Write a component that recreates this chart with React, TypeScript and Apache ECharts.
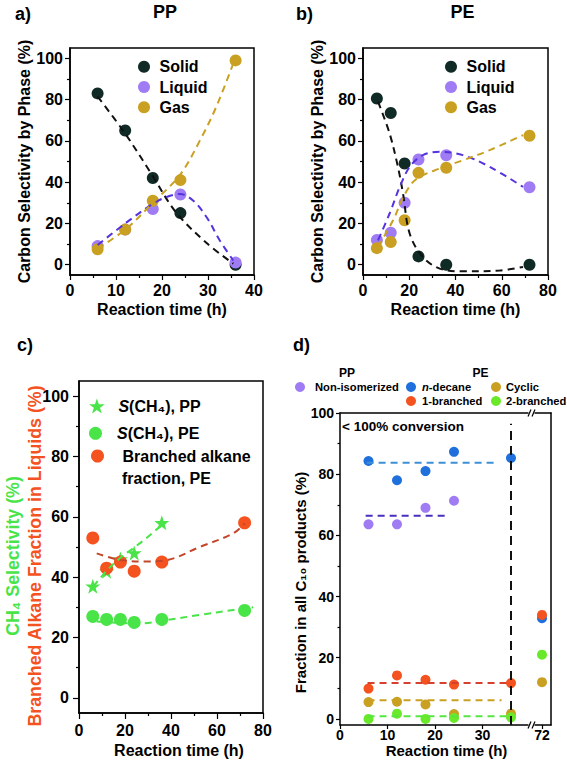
import React, { useEffect, useRef } from 'react';
import * as echarts from 'echarts';

const FONT = '"Liberation Sans", Arial, Helvetica, sans-serif';

// ---------- Panel a: PP ----------
const timesA = [6, 12, 18, 24, 36];
const solidA = [83, 65, 42, 25, 0];
const liquidA = [9, 17, 27, 34, 1];
const gasA = [7.5, 17, 31, 41, 99];
const solidFitA = [[6, 81.5], [12, 63.5], [17.7, 44], [23, 25.5], [29.7, 10.5], [35.5, 0.5]];
const liquidFitA = [[6, 9.5], [12.3, 20.5], [18, 29.5], [21, 32.8], [23.9, 34.3], [26.8, 31], [29.7, 23], [32.5, 12], [35.5, 2]];
const gasFitA = [[6, 7.8], [12.3, 17.5], [18, 30], [23.9, 43.5], [28.2, 60], [31.8, 76.5], [35.5, 97.5]];

// ---------- Panel b: PE ----------
const timesB = [6, 12, 18, 24, 36, 72];
const solidB = [80.5, 73.5, 49, 4, 0, 0];
const liquidB = [12, 15.5, 30, 51, 53, 37.5];
const gasB = [8, 11, 21.5, 44.5, 47, 62.5];
const solidFitB = [[6.5, 79], [11.5, 63.6], [15.1, 47.4], [17.3, 34.5], [20.2, 15], [25.9, 3.7], [33.2, -1.9], [43.2, -3.2], [59.1, -2.8], [69.2, -1.1]];
const liquidFitB = [[6.5, 11.8], [11.5, 24.8], [15.9, 37.7], [20.2, 47.4], [25.9, 53.1], [33.2, 54.7], [43.2, 53.1], [54.8, 47.4], [69.2, 37.7]];
const gasFitB = [[6.5, 8.6], [13, 21.5], [18, 34], [23.1, 41.5], [33.2, 46.6], [43.2, 50.6], [54.8, 55.5], [69.2, 62.8]];

// ---------- Panel c ----------
const timesPPc = [6, 12, 18, 24, 36];
const ch4PP = [37, 42, 46, 48, 58];
const timesPEc = [6, 12, 18, 24, 36, 72];
const ch4PE = [27, 26, 26, 25, 26, 29];
const branchedPE = [53, 43, 45, 42, 45, 58];
const ch4PPFit = [[6.2, 36.9], [12, 42.1], [17.8, 46.3], [23.6, 49.6], [29.4, 53], [36.6, 57.8]];
const ch4PEFit = [[7.7, 25.3], [16.3, 24.9], [26.5, 24.7], [38, 25.8], [52.5, 27.5], [67, 29.1], [75.7, 30]];
const branchedFit = [[7.7, 47.9], [17.8, 45.7], [29.4, 45.2], [38, 45.6], [52.5, 50], [67, 54.5], [72, 57.8]];

// ---------- Panel d ----------
const timesD = [6, 12, 18, 24, 36];
const timesNonIso = [6, 12, 18, 24];
const nonIso = [63.6, 63.6, 69, 71.3];
const nDecane = [84.3, 78, 81, 87.3, 85.3];
const branched1 = [9.9, 14.2, 12.8, 11.2, 11.7];
const cyclic = [5.5, 5.6, 4.7, 1.6, 1.7];
const branched2 = [0, 1.7, 0, 0.3, 0.5];
const times72 = [72];
const nDecane72 = [32.9];
const branched1_72 = [34];
const cyclic72 = [12];
const branched2_72 = [21];
const nDecaneMean = [[5.6, 83.7], [33.2, 83.7]];
const nonIsoMean = [[5.4, 66.4], [22.9, 66.4]];
const branched1Mean = [[5.8, 11.7], [36, 11.7]];
const cyclicMean = [[5.8, 6.1], [34, 6.1]];
const branched2Mean = [[5.8, 0.9], [35.2, 0.9]];
const conversionLine = [[36, -2], [36, 96.5]];

// ---------- Tick labels ----------
const yMajor = [0, 20, 40, 60, 80, 100];
const yMinor = [10, 30, 50, 70, 90];
const xTicksD = [0, 10, 20, 30];
const xTicksD2 = [72];

// ---------- Colours ----------
const C_SOLID = '#102a26';
const C_LIQ = '#a07cf4';
const C_GAS = '#c9a021';
const C_LIQ_FIT = '#5533dd';
const C_GREEN = '#48e448';
const C_RED = '#f4521f';
const C_RED_FIT = '#c4462a';
const C_BLUE = '#1f6fdc';
const C_BLUE_FIT = '#3d8fd6';
const C_LIME = '#6ae82a';
const C_NONISO_FIT = '#4a2fbf';

const STAR = 'path://M50,0L61.8,35.1L98.1,35.1L68.8,56.7L79.4,91.3L50,70L20.6,91.3L31.2,56.7L1.9,35.1L38.2,35.1Z';

const pts = (xs: number[], ys: number[]) => xs.map((x, i) => [x, ys[i]]);

const lineSt = { color: '#000', width: 1.5 };
const tickSt = { color: '#000', width: 1.2 };
const lbl = (size: number, margin: number, custom?: number[]) => ({
  show: true,
  color: '#000',
  fontFamily: FONT,
  fontWeight: 'bold',
  fontSize: size,
  margin,
  ...(custom ? { customValues: custom } : {}),
});
const nameSt = (size: number) => ({ color: '#000', fontFamily: FONT, fontWeight: 'bold', fontSize: size });

function xMain(gridIndex: number, min: number, max: number, interval: number | null, opts: any = {}) {
  return {
    type: 'value',
    gridIndex,
    position: 'bottom',
    min,
    max,
    ...(interval != null ? { interval } : {}),
    axisLine: { show: true, onZero: false, lineStyle: lineSt },
    axisTick: { show: true, inside: false, length: 5, lineStyle: tickSt },
    splitLine: { show: false },
    minorSplitLine: { show: false },
    ...opts,
  };
}
function yMain(gridIndex: number, min: number, max: number, opts: any = {}) {
  return {
    type: 'value',
    gridIndex,
    position: 'left',
    min,
    max,
    axisLine: { show: true, onZero: false, lineStyle: lineSt },
    axisTick: { show: true, inside: false, length: 5, lineStyle: tickSt, customValues: yMajor },
    splitLine: { show: false },
    ...opts,
  };
}
function yMinorAxis(gridIndex: number, min: number, max: number, len: number) {
  return {
    type: 'value',
    gridIndex,
    position: 'left',
    min,
    max,
    axisLine: { show: false, onZero: false },
    axisLabel: { show: false },
    axisTick: { show: true, inside: false, length: len, lineStyle: tickSt, customValues: yMinor },
    splitLine: { show: false },
  };
}
function lineOnly(gridIndex: number, position: string, min: number, max: number) {
  return {
    type: 'value',
    gridIndex,
    position,
    min,
    max,
    axisLine: { show: true, onZero: false, lineStyle: lineSt },
    axisTick: { show: false },
    axisLabel: { show: false },
    splitLine: { show: false },
  };
}

const dot = (name: string, xi: number, yi: number, xs: number[], ys: number[], color: string, size = 12, symbol = 'circle') => ({
  type: 'scatter',
  name,
  xAxisIndex: xi,
  yAxisIndex: yi,
  data: pts(xs, ys),
  symbol,
  symbolSize: size,
  itemStyle: { color, opacity: 1 },
  z: 2,
  silent: true,
});
const fit = (name: string, xi: number, yi: number, data: number[][], color: string, dash: number[] = [7, 5], smooth: number = 0.35) => ({
  type: 'line',
  name,
  xAxisIndex: xi,
  yAxisIndex: yi,
  data,
  smooth,
  showSymbol: false,
  symbol: 'none',
  lineStyle: { color, width: 2, type: dash },
  z: 3,
  silent: true,
});

const legendText = (size: number, lh: number, extra: any = {}) => ({
  color: '#000',
  fontFamily: FONT,
  fontWeight: 'bold',
  fontSize: size,
  lineHeight: lh,
  ...extra,
});

const txt = (text: string, x: number, y: number, size: number, align = 'left', extra: any = {}) => ({
  type: 'text',
  x,
  y,
  silent: true,
  style: {
    text,
    fill: '#000',
    fontFamily: FONT,
    fontWeight: 'bold',
    fontSize: size,
    align,
    verticalAlign: 'middle',
    ...extra,
  },
});

const brk = (x: number, y: number) => [
  { type: 'rect', shape: { x: x - 3, y: y - 2, width: 6, height: 4 }, style: { fill: '#fff' }, z: 50 },
  { type: 'line', shape: { x1: x - 3.5, y1: y + 3.5, x2: x - 0.5, y2: y - 3.5 }, style: { stroke: '#000', lineWidth: 1.2 }, z: 51 },
  { type: 'line', shape: { x1: x + 0.5, y1: y + 3.5, x2: x + 3.5, y2: y - 3.5 }, style: { stroke: '#000', lineWidth: 1.2 }, z: 51 },
];

function buildOption() {
  const grid = [
    { left: 70, top: 48, width: 184, height: 227, show: true, borderColor: '#000', borderWidth: 1.5, backgroundColor: 'transparent' },
    { left: 363, top: 48, width: 185, height: 227, show: true, borderColor: '#000', borderWidth: 1.5, backgroundColor: 'transparent' },
    { left: 79, top: 381, width: 184, height: 332, show: true, borderColor: '#000', borderWidth: 1.5, backgroundColor: 'transparent' },
    { left: 340, top: 413, width: 190, height: 312, show: false },
    { left: 533, top: 413, width: 18, height: 312, show: false },
  ];

  const minorX = { show: true, splitNumber: 2, length: 3, lineStyle: tickSt };

  const xAxis = [
    xMain(0, 0, 40, 10, {
      minorTick: minorX,
      axisLabel: lbl(16, 7),
      name: 'Reaction time (h)',
      nameLocation: 'middle',
      nameGap: 26,
      nameTextStyle: nameSt(16),
    }),
    xMain(1, 0, 80, 20, {
      minorTick: minorX,
      axisLabel: lbl(16, 7),
      name: 'Reaction time (h)',
      nameLocation: 'middle',
      nameGap: 26,
      nameTextStyle: nameSt(16),
    }),
    xMain(2, 0, 80, 20, {
      minorTick: minorX,
      axisTick: { show: true, inside: false, length: 6, lineStyle: tickSt },
      axisLabel: lbl(16, 9),
    }),
    xMain(3, 0, 40, null, {
      axisTick: { show: true, inside: false, length: 4, lineStyle: tickSt, customValues: xTicksD },
      axisLabel: lbl(14, 3, xTicksD),
    }),
    xMain(4, 70, 74, null, {
      axisTick: { show: true, inside: false, length: 4, lineStyle: tickSt, customValues: xTicksD2 },
      axisLabel: lbl(14, 3, xTicksD2),
    }),
    lineOnly(3, 'top', 0, 40),
    lineOnly(4, 'top', 70, 74),
  ];

  const yAxis = [
    yMain(0, -5, 105, {
      axisLabel: lbl(16, 7, yMajor),
      name: 'Carbon Selectivity by Phase (%)',
      nameLocation: 'middle',
      nameRotate: 90,
      nameGap: 36,
      nameTextStyle: nameSt(16),
    }),
    yMain(1, -5, 105, {
      axisLabel: lbl(16, 7, yMajor),
      name: 'Carbon Selectivity by Phase (%)',
      nameLocation: 'middle',
      nameRotate: 90,
      nameGap: 36,
      nameTextStyle: nameSt(16),
    }),
    yMain(2, -5, 105, {
      axisTick: { show: true, inside: false, length: 6, lineStyle: tickSt, customValues: yMajor },
      axisLabel: lbl(16, 10, yMajor),
    }),
    yMain(3, -2, 100, {
      axisTick: { show: true, inside: false, length: 4, lineStyle: tickSt, customValues: yMajor },
      axisLabel: lbl(14, 6, yMajor),
    }),
    lineOnly(4, 'right', -2, 100),
    yMinorAxis(0, -5, 105, 3),
    yMinorAxis(1, -5, 105, 3),
    yMinorAxis(2, -5, 105, 3),
    yMinorAxis(3, -2, 100, 2.5),
  ];

  const series: any[] = [
    // a
    dot('Solid', 0, 0, timesA, solidA, C_SOLID),
    dot('Liquid', 0, 0, timesA, liquidA, C_LIQ),
    dot('Gas', 0, 0, timesA, gasA, C_GAS),
    fit('fitSolidA', 0, 0, solidFitA, '#111'),
    fit('fitLiquidA', 0, 0, liquidFitA, C_LIQ_FIT),
    fit('fitGasA', 0, 0, gasFitA, C_GAS),
    // b
    dot('Solid', 1, 1, timesB, solidB, C_SOLID),
    dot('Liquid', 1, 1, timesB, liquidB, C_LIQ),
    dot('Gas', 1, 1, timesB, gasB, C_GAS),
    fit('fitSolidB', 1, 1, solidFitB, '#111'),
    fit('fitLiquidB', 1, 1, liquidFitB, C_LIQ_FIT),
    fit('fitGasB', 1, 1, gasFitB, C_GAS),
    // c
    dot('S(CH₄), PP', 2, 2, timesPPc, ch4PP, C_GREEN, 15, STAR),
    dot('S(CH₄), PE', 2, 2, timesPEc, ch4PE, C_GREEN, 13),
    dot('Branched alkane fraction, PE', 2, 2, timesPEc, branchedPE, C_RED, 13),
    fit('fitPP', 2, 2, ch4PPFit, C_GREEN),
    fit('fitPE', 2, 2, ch4PEFit, C_GREEN),
    fit('fitBranched', 2, 2, branchedFit, C_RED_FIT),
    // d
    dot('Non-isomerized', 3, 3, timesNonIso, nonIso, C_LIQ, 10),
    dot('n-decane', 3, 3, timesD, nDecane, C_BLUE, 10),
    dot('Cyclic', 3, 3, timesD, cyclic, C_GAS, 10),
    dot('1-branched', 3, 3, timesD, branched1, C_RED, 10),
    dot('2-branched', 3, 3, timesD, branched2, C_LIME, 10),
    fit('meanN', 3, 3, nDecaneMean, C_BLUE_FIT, [7, 5], 0),
    fit('meanNonIso', 3, 3, nonIsoMean, C_NONISO_FIT, [7, 5], 0),
    fit('mean1', 3, 3, branched1Mean, '#d8402e', [7, 5], 0),
    fit('meanCyc', 3, 3, cyclicMean, C_GAS, [7, 5], 0),
    fit('mean2', 3, 3, branched2Mean, '#55e640', [7, 5], 0),
    fit('conv', 3, 3, conversionLine, '#111', [9, 6], 0),
    dot('n-decane', 4, 4, times72, nDecane72, C_BLUE, 10),
    dot('Cyclic', 4, 4, times72, cyclic72, C_GAS, 10),
    dot('2-branched', 4, 4, times72, branched2_72, C_LIME, 10),
    dot('1-branched', 4, 4, times72, branched1_72, C_RED, 10),
  ];

  const richItalic = (size: number) => ({ i: { fontStyle: 'italic', fontWeight: 'bold', fontSize: size, fontFamily: FONT, color: '#000' } });
  const legBase = { orient: 'vertical', padding: 0, selectedMode: false, symbolKeepAspect: true };
  const DF = 11.2;
  const legend = [
    { ...legBase, left: 138, top: 58.7, itemWidth: 21, itemHeight: 12, itemGap: 4.3, data: ['Solid', 'Liquid', 'Gas'], textStyle: legendText(16, 16) },
    { ...legBase, left: 445, top: 58.7, itemWidth: 21, itemHeight: 12, itemGap: 4.3, data: ['Solid', 'Liquid', 'Gas'], textStyle: legendText(16, 16) },
    {
      ...legBase, left: 89, top: 398, itemWidth: 33, itemHeight: 15, data: ['S(CH₄), PP'],
      formatter: () => '{i|S}(CH₄), PP',
      textStyle: legendText(16, 16, { rich: richItalic(16) }),
    },
    {
      ...legBase, left: 89, top: 425.3, itemWidth: 33, itemHeight: 13, data: ['S(CH₄), PE'],
      formatter: () => '{i|S}(CH₄), PE',
      textStyle: legendText(16, 16, { rich: richItalic(16) }),
    },
    {
      ...legBase, left: 91, top: 448, itemWidth: 40, itemHeight: 13, data: ['Branched alkane fraction, PE'],
      formatter: () => 'Branched alkane',
      textStyle: legendText(16, 16),
    },
    { ...legBase, left: 295, top: 381, itemWidth: 20, itemHeight: 10, data: ['Non-isomerized'], textStyle: legendText(DF, 12) },
    {
      ...legBase, left: 406, top: 381, itemWidth: 12, itemHeight: 10, data: ['n-decane'],
      formatter: () => '{i|n}-decane',
      textStyle: legendText(DF, 12, { rich: richItalic(DF) }),
    },
    { ...legBase, left: 491, top: 381, itemWidth: 10, itemHeight: 10, data: ['Cyclic'], textStyle: legendText(DF, 12) },
    { ...legBase, left: 406, top: 395, itemWidth: 12, itemHeight: 10, data: ['1-branched'], textStyle: legendText(DF, 12) },
    { ...legBase, left: 491, top: 395, itemWidth: 10, itemHeight: 10, data: ['2-branched'], textStyle: legendText(DF, 12) },
  ];

  const graphic: any[] = [
    txt('a)', 15, 14, 18),
    txt('PP', 165, 12, 18, 'center'),
    txt('b)', 296, 14, 18),
    txt('PE', 462.5, 12, 18, 'center'),
    txt('c)', 17, 345, 18),
    txt('d)', 293, 345, 18),
    {
      type: 'text',
      x: 23.5,
      y: 556,
      rotation: Math.PI / 2,
      silent: true,
      style: {
        text: '{g|CH₄ Selectivity (%)}\n{r|Branched Alkane Fraction in Liquids (%)}',
        align: 'center',
        verticalAlign: 'middle',
        rich: {
          g: { fill: C_GREEN, fontFamily: FONT, fontWeight: 'bold', fontSize: 17.8, lineHeight: 22 },
          r: { fill: C_RED, fontFamily: FONT, fontWeight: 'bold', fontSize: 17.8, lineHeight: 22 },
        },
      },
    },
    txt('fraction, PE', 122, 478.5, 16),
    txt('Reaction time (h)', 179, 750, 16, 'center'),
    { ...txt('Fraction in all C₁₀ products (%)', 300.5, 582.5, 15, 'center'), rotation: Math.PI / 2 },
    txt('Reaction time (h)', 446.5, 750, 15, 'center'),
    txt('< 100% conversion', 342, 426, 13.5),
    txt('PP', 347, 373, 12, 'center'),
    txt('PE', 480.5, 373, 12, 'center'),
    ...brk(531.5, 413),
    ...brk(531.5, 725),
  ];

  return { animation: false, backgroundColor: '#fff', grid, xAxis, yAxis, series, legend, graphic };
}

export default function App() {
  const ref = useRef<HTMLDivElement>(null);
  useEffect(() => {
    if (!ref.current) return;
    const chart = echarts.init(ref.current, null, { renderer: 'svg' });
    chart.setOption(buildOption() as any);
    return () => chart.dispose();
  }, []);
  return <div ref={ref} style={{ position: 'fixed', left: 0, top: 0, width: 567, height: 761 }} />;
}
